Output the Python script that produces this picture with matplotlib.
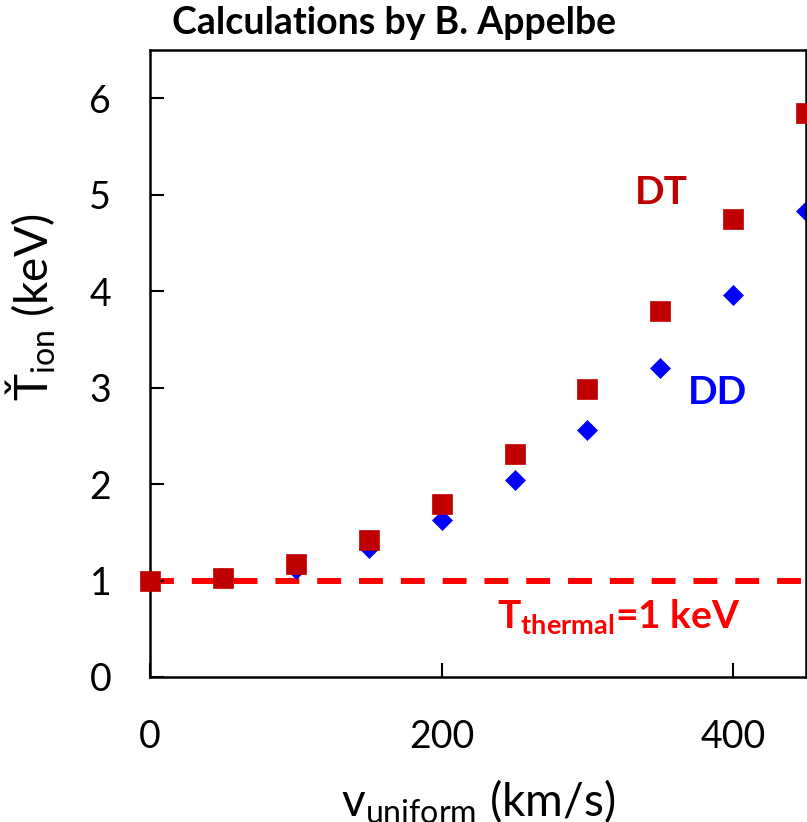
import numpy as np
import matplotlib.pyplot as plt

plt.rcParams['font.family'] = ['Lato', 'DejaVu Sans']
plt.rcParams['mathtext.default'] = 'regular'

# velocities (km/s)
v_uniform = [0, 50, 100, 150, 200, 250, 300, 350, 400, 450]
# effective ion temperature (keV)
t_dt = [1.00, 1.03, 1.17, 1.42, 1.79, 2.31, 2.98, 3.79, 4.75, 5.84]
t_dd = [1.00, 1.03, 1.12, 1.34, 1.63, 2.04, 2.56, 3.20, 3.96, 4.83]
t_thermal = 1.0

xticks = [0, 200, 400]
yticks = [0, 1, 2, 3, 4, 5, 6]

fig = plt.figure(figsize=(8.07, 8.22), dpi=100)
ax = fig.add_axes([0.186, 0.1764, 0.813, 0.763])

ax.axhline(t_thermal, color='#ff0000', lw=4.3, ls=(0, (4, 3)), zorder=1)
ax.plot(v_uniform, t_dd, ls='none', marker='D', ms=10.3, color='#0000ff',
        mec='#0000ff', mew=0.5, clip_on=False, zorder=2)
ax.plot(v_uniform, t_dt, ls='none', marker='s', ms=14.5, color='#c00000',
        mec='#c00000', mew=0.5, clip_on=False, zorder=3)

ax.text(350.5, 5.02, 'DT', color='#c00000', fontsize=28, fontweight='bold',
        ha='center', va='center')
ax.text(389, 2.95, 'DD', color='#0000ff', fontsize=28, fontweight='bold',
        ha='center', va='center')
ax.text(238, 0.51, r'T$_{thermal}$=1 keV', color='#ff0000', fontsize=28,
        fontweight='bold', ha='left', va='baseline')

ax.set_xlim(0, 450)
ax.set_ylim(0, 6.5)
ax.set_xticks(xticks)
ax.set_yticks(yticks)
ax.tick_params(direction='in', length=10, width=1.5, labelsize=27, top=False, right=False)
ax.tick_params(axis='y', pad=28)
ax.tick_params(axis='x', pad=30)
for s in ax.spines.values():
    s.set_linewidth(1.8)

ax.set_xlabel(r'v$_{uniform}$ (km/s)', fontsize=33)
ax.set_ylabel('Ť$_{ion}$ (keV)', fontsize=33)
ax.xaxis.set_label_coords(0.5, -0.16)
ax.yaxis.set_label_coords(-0.14, 0.59)

fig.text(0.488, 0.972, 'Calculations by B. Appelbe', fontsize=27,
         fontweight='bold', ha='center', va='center')

fig.savefig('out.png', dpi=100)
